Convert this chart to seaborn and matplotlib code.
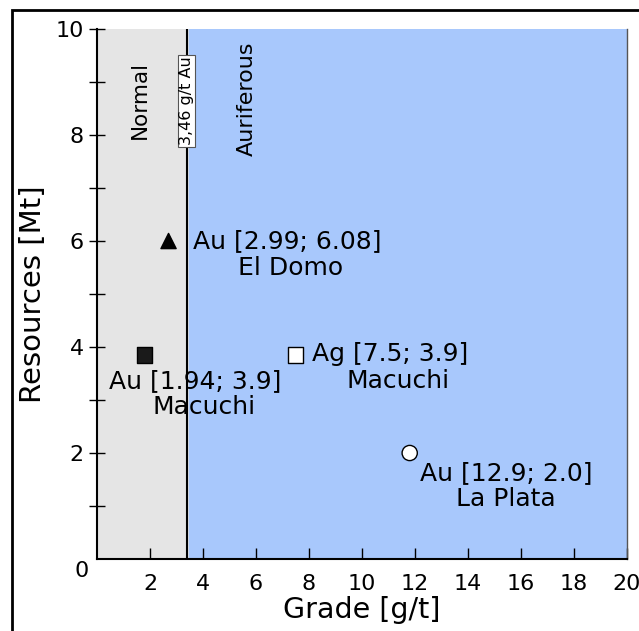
import seaborn as sns
import matplotlib.pyplot as plt
import pandas as pd
import numpy as np
from matplotlib.patches import Rectangle

sns.set_theme(style="white")
plt.rcParams["font.family"] = ["DejaVu Sans"]
plt.rcParams["text.color"] = "black"
plt.rcParams["axes.labelcolor"] = "black"

# 数据
grade = [2.7, 1.8, 7.5, 11.8]
resources = [6.0, 3.85, 3.85, 2.0]
names = ["El Domo Au", "Macuchi Au", "Macuchi Ag", "La Plata Au"]
labels = ["Au [2.99; 6.08]", "Au [1.94; 3.9]", "Ag [7.5; 3.9]", "Au [12.9; 2.0]"]
sites = ["El Domo", "Macuchi", "Macuchi", "La Plata"]
cutoff = 3.46
x_ticks = [2, 4, 6, 8, 10, 12, 14, 16, 18, 20]
y_ticks = [2, 4, 6, 8, 10]

df = pd.DataFrame({"grade": grade, "resources": resources, "name": names})

fig = plt.figure(figsize=(6.39, 6.31), dpi=100)
ax = fig.add_axes([97 / 639, 1 - 559 / 631, 530 / 639, 530 / 631])

# 背景区域
ax.axvspan(0, cutoff, color="#e5e5e5", zorder=0)
ax.axvspan(cutoff, 20, color="#a8c8fc", zorder=0)
ax.axvline(cutoff - 0.08, color="black", lw=1.5, zorder=1)

sns.scatterplot(data=df, x="grade", y="resources", hue="name", style="name",
                palette={"El Domo Au": "black", "Macuchi Au": "#1a1a1a",
                         "Macuchi Ag": "white", "La Plata Au": "white"},
                markers={"El Domo Au": "^", "Macuchi Au": "s",
                         "Macuchi Ag": "s", "La Plata Au": "o"},
                s=120, edgecolor="black", linewidth=1, legend=False, ax=ax, zorder=3)

# 标注
label_pos = [(3.62, 6.0), (0.45, 3.36), (8.11, 3.87), (12.19, 1.62)]
site_pos = [(5.32, 5.49), (2.11, 2.87), (9.43, 3.36), (13.55, 1.13)]
for (lx, ly), t in zip(label_pos, labels):
    ax.text(lx, ly, t, fontsize=18, ha="left", va="center", zorder=4)
for (sx, sy), t in zip(site_pos, sites):
    ax.text(sx, sy, t, fontsize=18, ha="left", va="center", zorder=4)

ax.text(1.62, 8.66, "Normal", rotation=90, fontsize=15.5, ha="center", va="center")
ax.text(5.66, 8.69, "Auriferous", rotation=90, fontsize=16, ha="center", va="center")
ax.text(3.38, 8.64, "3,46 g/t Au", rotation=90, fontsize=11.5, ha="center", va="center",
        bbox=dict(boxstyle="square,pad=0.08", fc="white", ec="#555555", lw=0.8), zorder=5)

ax.set_xlim(0, 20)
ax.set_ylim(0, 10)
ax.set_xticks(x_ticks)
ax.set_yticks(y_ticks)
ax.set_yticks([1, 3, 5, 7, 9], minor=True)
ax.tick_params(axis="x", direction="in", length=8, width=1, colors="black",
               labelsize=16, pad=11, bottom=True)
ax.tick_params(axis="y", which="both", direction="inout", length=12, width=1,
               colors="black", labelsize=16, left=True)
ax.text(-0.3, -0.22, "0", fontsize=16, ha="right", va="center")

ax.set_xlabel("Grade [g/t]", fontsize=20.5, labelpad=1)
ax.set_ylabel("Resources [Mt]", fontsize=21, labelpad=6)

for side in ["left", "bottom"]:
    ax.spines[side].set_color("black")
    ax.spines[side].set_linewidth(1.5)
ax.spines["top"].set_visible(False)
ax.spines["right"].set_color("#555555")
ax.spines["right"].set_linewidth(1)

# 外框
fig.patches.append(Rectangle((12 / 639, -0.1), 1.2, 1 - 10 / 631 + 0.1,
                             transform=fig.transFigure, fill=False,
                             ec="black", lw=2))

fig.savefig("out.png", dpi=100)
